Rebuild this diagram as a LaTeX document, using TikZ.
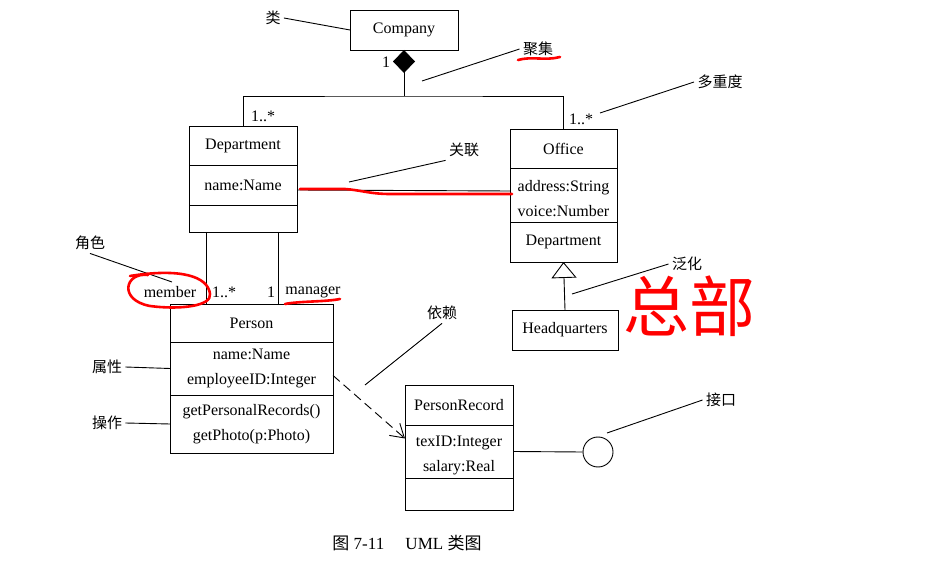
\documentclass[tikz,border=0pt]{standalone}
\usepackage{fontspec}
\setmainfont{Liberation Serif}
\newfontfamily\cjk{Noto Sans CJK SC}
\usetikzlibrary{positioning, arrows.meta, shapes}

\begin{document}
\begin{tikzpicture}[x=1pt, y=-1pt, line width=0.9pt,
        cls/.style={draw, outer sep=0pt, inner sep=0pt, align=center, font=\fontsize{16}{25}\selectfont},
        lbl/.style={inner sep=1pt, font=\fontsize{16}{18}\selectfont},
        zh/.style={inner sep=3pt, font=\cjk\fontsize{15}{18}\selectfont},
        redmark/.style={red, line width=2.6pt, line cap=round, line join=round}]
        \useasboundingbox[fill=white] (0,0) rectangle (927,561);
        \node[cls, minimum width=108, minimum height=40] (company) at (404,30) {Company};
        \node[cls, minimum width=108, minimum height=39] (dept) at (243,145.5) {Department};
        \node[cls, minimum width=108, minimum height=40, below=0pt of dept] (deptattr) {name:Name};
        \node[cls, minimum width=108, minimum height=27, below=0pt of deptattr] (deptop) {};
        \node[cls, minimum width=107, minimum height=39] (office) at (563.5,148.5) {Office};
        \node[cls, minimum width=107, minimum height=54, below=0pt of office] (officeattr) {\strut address:String\\voice:Number};
        \node[cls, minimum width=107, minimum height=40, below=0pt of officeattr] (officedept) {Department};
        \node[cls, minimum width=106, minimum height=40] (hq) at (565,330) {Headquarters};
        \node[cls, minimum width=163, minimum height=38] (person) at (251.5,323) {Person};
        \node[cls, minimum width=163, minimum height=53, below=0pt of person] (personattr) {name:Name\\employeeID:Integer};
        \node[cls, minimum width=163, minimum height=58, below=0pt of personattr] (personop) {getPersonalRecords()\\getPhoto(p:Photo)};
        \node[cls, minimum width=108, minimum height=40] (record) at (459,405) {PersonRecord};
        \node[cls, minimum width=108, minimum height=53, below=0pt of record] (recordattr) {\strut texID:Integer\\salary:Real};
        \node[cls, minimum width=108, minimum height=32, below=0pt of recordattr] (recordop) {};
        \node[draw, circle, minimum size=30, inner sep=0pt] (iface) at (598,452) {};
        \node[lbl] (aggone) at (386,62) {1};
        \node[lbl] (deptmult) at (263,116) {1..*};
        \node[lbl] (officemult) at (581,119) {1..*};
        \node[lbl] (member) at (170,292) {member};
        \node[lbl] (membermult) at (224,292) {1..*};
        \node[lbl] (mgrmult) at (271,292) {1};
        \node[lbl] (manager) at (313,292) {manager};
        \coordinate (join) at (404,96);
        \draw[-{Diamond[length=23, width=22, fill=black]}] (join) -- (company.south);
        \draw (dept.north) |- (join) -| (office.north);
        \draw ([yshift=-5]deptattr.east) -- ([yshift=4]officeattr.west);
        \draw ([xshift=-37]deptop.south) -- ([xshift=-37]deptop.south |- person.north);
        \draw ([xshift=35]deptop.south) -- ([xshift=35]deptop.south |- person.north);
        \draw[dash pattern=on 9pt off 5pt, -{Straight Barb[length=13, width=16]}] ([yshift=-7]personattr.east) -- ([yshift=13]recordattr.west);
        \draw[-{Triangle[open, length=16, width=25]}] (hq.north) -- (officedept.south);
        \draw (recordattr.east) -- (iface.west);
        \node[zh] (nclass) at (273,18) {类};
        \node[zh] (nagg) at (538,49) {聚集};
        \node[zh] (nmult) at (720,82) {多重度};
        \node[zh] (nassoc) at (464,150) {关联};
        \node[zh] (nrole) at (90,243) {角色};
        \node[zh] (nattr) at (107,367) {属性};
        \node[zh] (nop) at (107,423) {操作};
        \node[zh] (ndep) at (442,313) {依赖};
        \node[zh] (ngen) at (687,264) {泛化};
        \node[zh] (niface) at (721,400) {接口};
        \coordinate (aggend) at (422,81);
        \coordinate (multend) at (600,113);
        \coordinate (assocend) at (349,182);
        \coordinate (roleend) at (172,282);
        \coordinate (depend) at (365,385);
        \coordinate (genend) at (572,294);
        \coordinate (ifaceend) at (607,433);
        \draw (nclass.east) -- (company.west);
        \draw (aggend) -- (nagg.west);
        \draw (multend) -- (nmult.west);
        \draw (assocend) -- (nassoc.south west);
        \draw (nrole.south) -- (roleend);
        \draw (nattr.east) -- (personattr.west);
        \draw (nop.east) -- (personop.west);
        \draw (depend) -- (ndep.south);
        \draw (genend) -- (ngen.west);
        \draw (ifaceend) -- (niface.west);
        \draw[redmark] (518,60) .. controls (532,56) and (545,61) .. (560,57);
        \draw[redmark] (300,189) -- (345,189) .. controls (360,190) and (370,194) .. (390,194) -- (512,194);
        \draw[redmark] (148,275) .. controls (125,272) and (118,300) .. (150,306) .. controls (180,310) and (212,306) .. (210,294) .. controls (208,276) and (180,268) .. (130,276);
        \draw[redmark] (285,304) .. controls (300,301) and (325,302) .. (340,299);
        \node[text=red, inner sep=0pt, font=\cjk\fontsize{66}{66}\selectfont] (scribble) at (689,306) {总部};
        \node[inner sep=0pt, font=\fontsize{17}{20}\selectfont] (caption) at (407,543) {{\cjk 图} 7-11\quad\ UML {\cjk 类图}};
\end{tikzpicture}
\end{document}
